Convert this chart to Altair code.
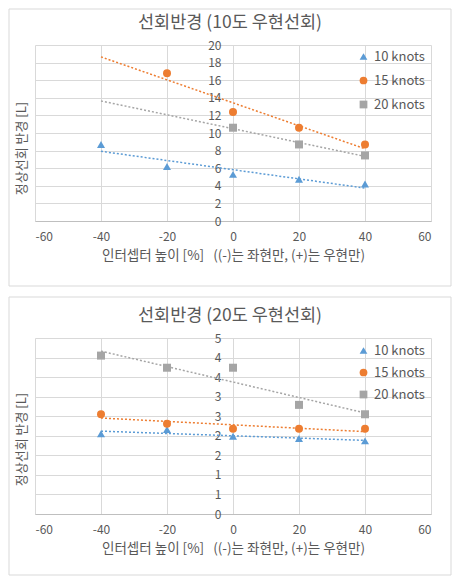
import altair as alt
import pandas as pd

# ---------------- data ----------------
x_vals = [-40, -20, 0, 20, 40]
series = ["10 knots", "15 knots", "20 knots"]
colors = ["#5B9BD5", "#ED7D31", "#A5A5A5"]
shapes = ["triangle-up", "circle", "square"]

# 10-degree turn
top_10 = [8.7, 6.2, 5.3, 4.75, 4.2]
top_15 = [None, 16.8, 12.4, 10.6, 8.7]
top_20 = [None, None, 10.6, 8.7, 7.45]

# 20-degree turn
bot_10 = [2.05, 2.16, 1.99, 1.93, 1.87]
bot_15 = [2.55, 2.31, 2.18, 2.18, 2.18]
bot_20 = [4.05, 3.74, 3.74, 2.79, 2.55]

titles = ["선회반경 (10도 우현선회)", "선회반경 (20도 우현선회)"]
x_title = "인터셉터 높이 [%]\u00a0\u00a0\u00a0((-)는 좌현만, (+)는 우현만)"
y_title = "정상선회 반경 [L]"
x_ticks = [-60, -40, -20, 0, 20, 40, 60]
top_y_ticks = [0, 2, 4, 6, 8, 10, 12, 14, 16, 18, 20]
bot_y_ticks = [0, 0.5, 1, 1.5, 2, 2.5, 3, 3.5, 4, 4.5]

FONT = "Noto Sans CJK KR"
TXT = "#595959"
GRID = "#d9d9d9"
W, H = 396, 176


def make_df(vals_by_series):
    rows = []
    for s, vals in zip(series, vals_by_series):
        for x, v in zip(x_vals, vals):
            if v is not None:
                rows.append({"x": x, "y": v, "series": s})
    return pd.DataFrame(rows)


def panel(vals_by_series, title, y_ticks, label_expr, border_top, border_bottom,
          legend_y, row_pad, title_y):
    df = make_df(vals_by_series)
    ymax = y_ticks[-1]
    x_enc = alt.X(
        "x:Q",
        scale=alt.Scale(domain=[-60, 60], nice=False, zero=False),
        axis=alt.Axis(
            values=x_ticks, grid=True, gridColor=GRID, domainColor="#bfbfbf",
            ticks=False, labelPadding=10, labelColor=TXT, labelFontSize=12,
            labelFont=FONT, labelExpr="'' + datum.value",
            title=x_title, titleColor=TXT, titleFontSize=13.5,
            titleFont=FONT, titleFontWeight="normal", titlePadding=6,
        ),
    )
    y_axis = alt.Axis(
        values=y_ticks, grid=True, gridColor=GRID, domain=False, ticks=False,
        offset=-W / 2, labelPadding=12, labelColor=TXT, labelFontSize=12,
        labelFont=FONT, labelExpr=label_expr, title=y_title,
        titleX=-W / 2 - 14, titleY=title_y, titleAngle=-90,
        titleAlign="center", titleBaseline="middle", titleColor=TXT,
        titleFontSize=13, titleFont=FONT, titleFontWeight="normal",
    )
    y_enc = alt.Y("y:Q", scale=alt.Scale(domain=[0, ymax], nice=False),
                  axis=y_axis)

    color_scale = alt.Scale(domain=series, range=colors)
    shape_scale = alt.Scale(domain=series, range=shapes)
    leg = alt.Legend(
        title=None, orient="none", legendX=322, legendY=legend_y,
        labelFont=FONT, labelFontSize=13, labelColor=TXT, symbolSize=60,
        rowPadding=row_pad, labelOffset=4,
    )

    base = alt.Chart(df)
    trends = [
        base.transform_filter(alt.datum.series == s).transform_regression(
            "x", "y", extent=[-40, 40]
        ).mark_line(strokeDash=[2, 2], strokeWidth=1.5, color=c).encode(
            x=x_enc, y=y_enc
        )
        for s, c in zip(series, colors)
    ]
    pts = base.mark_point(filled=True, size=64, opacity=1).encode(
        x=x_enc, y=y_enc,
        color=alt.Color("series:N", scale=color_scale, legend=leg),
        shape=alt.Shape("series:N", scale=shape_scale, legend=leg),
    )
    one = pd.DataFrame({"t": [title]})
    border = alt.Chart(one).mark_rect(
        fillOpacity=0, stroke=GRID, strokeWidth=1
    ).encode(
        x=alt.value(-26), x2=alt.value(416),
        y=alt.value(border_top), y2=alt.value(border_bottom),
    )
    ttl = alt.Chart(one).mark_text(
        font=FONT, fontSize=17.5, color=TXT, align="center", baseline="middle"
    ).encode(text="t:N", x=alt.value(W / 2 - 3), y=alt.value(-22))
    return alt.layer(border, ttl, *trends, pts).properties(width=W, height=H)


top = panel([top_10, top_15, top_20], titles[0], top_y_ticks,
            "'' + datum.value", -36, 241, 5, 10, 103)
bottom = panel([bot_10, bot_15, bot_20], titles[1], bot_y_ticks,
               "round(datum.value)", -41, 237, 6, 8, 101)

chart = alt.vconcat(top, bottom, spacing=9).resolve_scale(
    color="independent", shape="independent"
).resolve_legend(
    color="independent", shape="independent"
).properties(
    padding=0, background="white"
).configure_view(stroke=None)

chart.save("out.html", embed_options={"renderer": "svg", "actions": False})
